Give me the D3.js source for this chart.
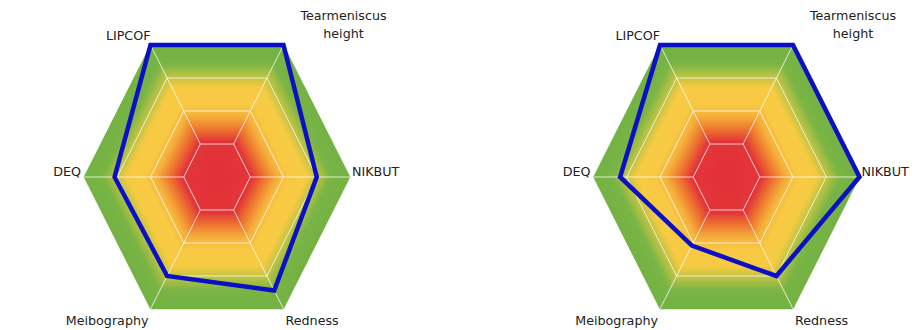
<!DOCTYPE html>
<html>
<head>
<meta charset="utf-8">
<script src="https://cdn.jsdelivr.net/npm/d3@7"></script>
<style>
  body { margin: 0; background: #fff; }
  svg { display: block; }
  .label { font-family: "DejaVu Sans", sans-serif; font-size: 12.7px; fill: #222; }
</style>
</head>
<body>
<div id="chart"></div>
<script>

// Axes, clockwise from the top-right corner.
const axes = ['Tearmeniscus height', 'NIKBUT', 'Redness', 'Meibography', 'DEQ', 'LIPCOF'];

// Scores (0 = centre, 1 = outer edge).
const leftValues = [1.0, 0.75, 0.86, 0.75, 0.77, 1.0];
const rightValues = [1.0, 1.0, 0.75, 0.52, 0.80, 1.0];

// Grid rings.
const gridLevels = [0.25, 0.5, 0.75];

// Background colour ramp.
const rampStops = [0, 0.27, 0.36, 0.46, 0.55, 0.68, 0.78, 0.86, 1];
const rampColors = ['#e2313a', '#e3363a', '#ee7431', '#f5b13d', '#f9ca44', '#f7cb44', '#b0c145', '#7ab546', '#74b244'];


const width = 923, height = 330;
const svg = d3.select('#chart').append('svg')
  .attr('width', width)
  .attr('height', height);

const color = d3.scaleLinear().domain(rampStops).range(rampColors).interpolate(d3.interpolateRgb);

// Hexagon is a bit taller than a regular one.
const rx = d3.scaleLinear().domain([0, 1]).range([0, 133]);
const ry = d3.scaleLinear().domain([0, 1]).range([0, 152.4]);
const angle = d3.scalePoint().domain(axes)
  .range([-Math.PI / 3, -Math.PI / 3 + 2 * Math.PI * 5 / 6]);

const point = (axis, v) => [
  rx(v) * Math.cos(angle(axis)),
  ry(v) * Math.sin(angle(axis))
];

const ring = t => axes.map(a => point(a, t));
const closed = d3.line().curve(d3.curveLinearClosed);

// Label placement per axis: [dx, dy, anchor].
const labelPos = {
  'Tearmeniscus height': [60, -25, 'middle'],
  'NIKBUT': [2, -1, 'start'],
  'Redness': [2, 16, 'start'],
  'Meibography': [-2, 16, 'end'],
  'DEQ': [-3, -1, 'end'],
  'LIPCOF': [0, -5, 'end']
};


function radar(cx, cy, values) {

  const g = svg.append('g').attr('transform', `translate(${cx},${cy})`);

  // Hexagonal colour gradient.
  const steps = d3.range(1, 0, -1 / 160);
  g.selectAll('path.band')
    .data(steps)
    .join('path')
    .attr('class', 'band')
    .attr('d', t => closed(ring(t)))
    .attr('fill', t => color(t))
    .attr('stroke', t => color(t))
    .attr('stroke-width', 0.6);

  // Grid rings.
  g.selectAll('path.grid')
    .data(gridLevels)
    .join('path')
    .attr('class', 'grid')
    .attr('d', t => closed(ring(t)))
    .attr('fill', 'none')
    .attr('stroke', '#fff')
    .attr('stroke-opacity', 0.75)
    .attr('stroke-width', 1);

  // Spokes, from the first ring out.
  g.selectAll('line.spoke')
    .data(axes)
    .join('line')
    .attr('class', 'spoke')
    .attr('x1', a => point(a, gridLevels[0])[0])
    .attr('y1', a => point(a, gridLevels[0])[1])
    .attr('x2', a => point(a, 1)[0])
    .attr('y2', a => point(a, 1)[1])
    .attr('stroke', '#fff')
    .attr('stroke-opacity', 0.75)
    .attr('stroke-width', 1);

  // The score line.
  g.append('path')
    .attr('d', closed(axes.map((a, i) => point(a, values[i]))))
    .attr('fill', 'none')
    .attr('stroke', '#0b0fc6')
    .attr('stroke-width', 4.5)
    .attr('stroke-linejoin', 'miter');

  // Labels.
  axes.forEach(a => {
    const [vx, vy] = point(a, 1);
    const [dx, dy, anchor] = labelPos[a];
    const words = a === 'Tearmeniscus height' ? ['Tearmeniscus', 'height'] : [a];
    const text = g.append('text')
      .attr('class', 'label')
      .attr('text-anchor', anchor)
      .attr('x', vx + dx)
      .attr('y', vy + dy);
    words.forEach((w, i) => {
      text.append('tspan')
        .attr('x', vx + dx)
        .attr('dy', i ? 18 : 0)
        .text(w);
    });
  });

}


radar(217, 177, leftValues);
radar(726.5, 177, rightValues);

</script>
</body>
</html>
